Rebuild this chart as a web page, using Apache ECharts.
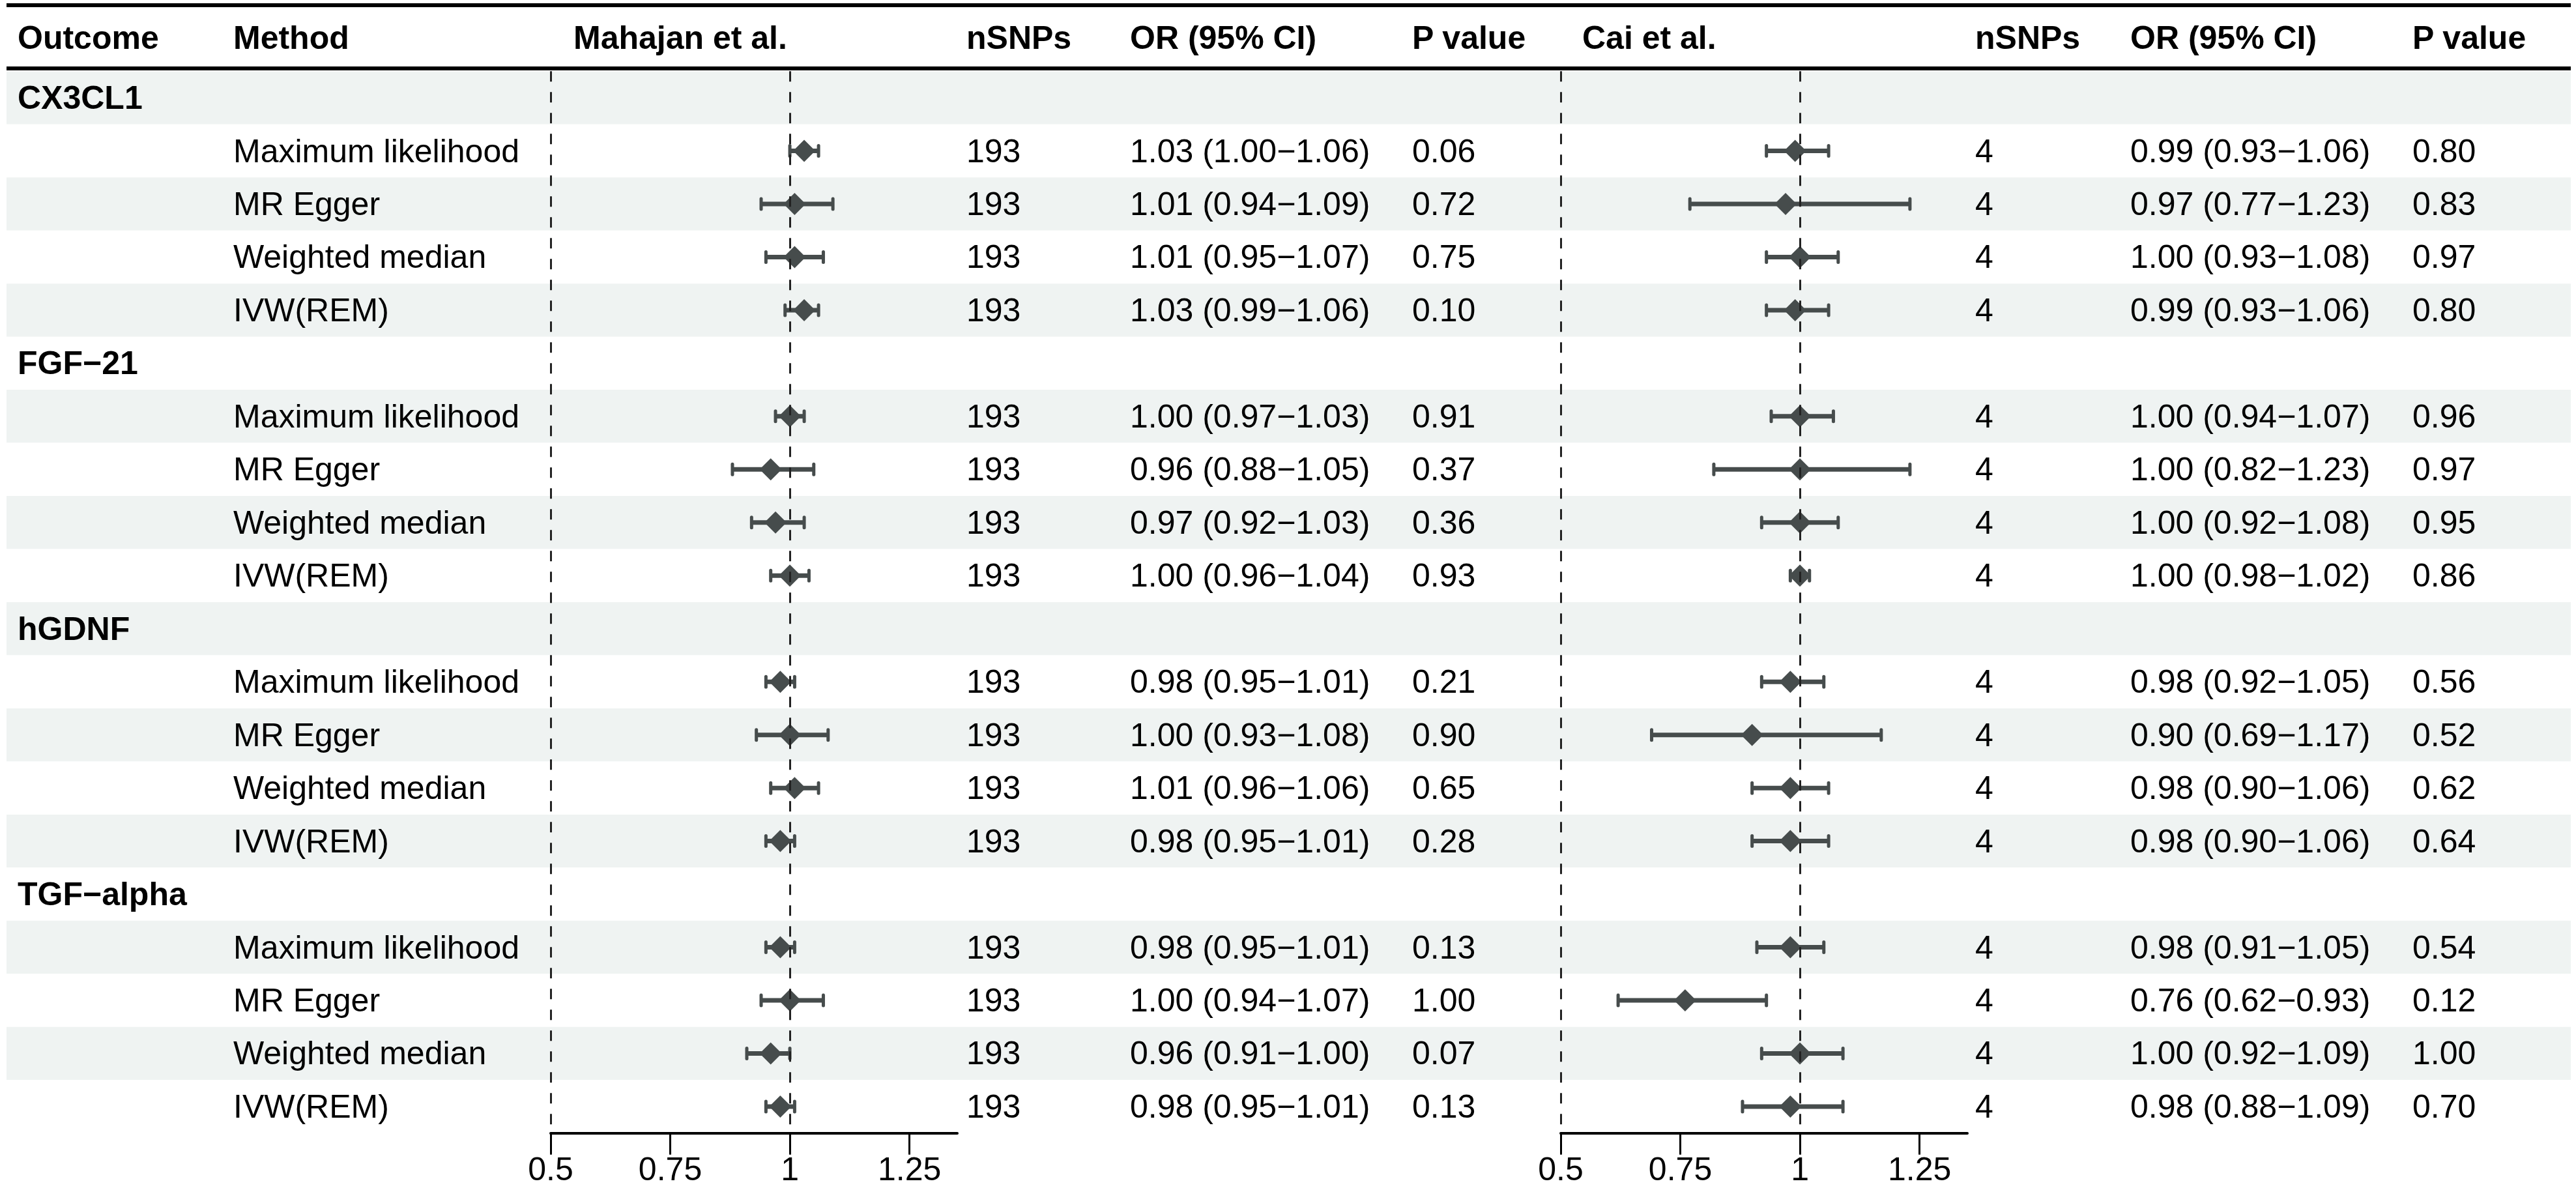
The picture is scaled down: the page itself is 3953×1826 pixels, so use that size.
<!DOCTYPE html>
<html>
<head>
<meta charset="utf-8">
<script src="https://cdn.jsdelivr.net/npm/echarts@6/dist/echarts.min.js"></script>
<style>
html, body { margin: 0; padding: 0; background: #ffffff; }
#container { width: 3953px; height: 1826px; }
</style>
</head>
<body>
<div id="container"></div>
<script>
// ---- data ----
const outcomes = ['CX3CL1', 'FGF\u221221', 'hGDNF', 'TGF\u2212alpha'];
const methods = ['Maximum likelihood', 'MR Egger', 'Weighted median', 'IVW(REM)'];
const headers = ['Outcome', 'Method', 'Mahajan et al.', 'nSNPs', 'OR (95% CI)', 'P value', 'Cai et al.', 'nSNPs', 'OR (95% CI)', 'P value'];
const axisTicks = [0.5, 0.75, 1, 1.25];

// Mahajan et al. (4 methods per outcome, outcomes in order)
const mahajanN = [193, 193, 193, 193, 193, 193, 193, 193, 193, 193, 193, 193, 193, 193, 193, 193];
const mahajanOR = [1.03, 1.01, 1.01, 1.03, 1.00, 0.96, 0.97, 1.00, 0.98, 1.00, 1.01, 0.98, 0.98, 1.00, 0.96, 0.98];
const mahajanLow = [1.00, 0.94, 0.95, 0.99, 0.97, 0.88, 0.92, 0.96, 0.95, 0.93, 0.96, 0.95, 0.95, 0.94, 0.91, 0.95];
const mahajanHigh = [1.06, 1.09, 1.07, 1.06, 1.03, 1.05, 1.03, 1.04, 1.01, 1.08, 1.06, 1.01, 1.01, 1.07, 1.00, 1.01];
const mahajanP = ['0.06', '0.72', '0.75', '0.10', '0.91', '0.37', '0.36', '0.93', '0.21', '0.90', '0.65', '0.28', '0.13', '1.00', '0.07', '0.13'];

// Cai et al.
const caiN = [4, 4, 4, 4, 4, 4, 4, 4, 4, 4, 4, 4, 4, 4, 4, 4];
const caiOR = [0.99, 0.97, 1.00, 0.99, 1.00, 1.00, 1.00, 1.00, 0.98, 0.90, 0.98, 0.98, 0.98, 0.76, 1.00, 0.98];
const caiLow = [0.93, 0.77, 0.93, 0.93, 0.94, 0.82, 0.92, 0.98, 0.92, 0.69, 0.90, 0.90, 0.91, 0.62, 0.92, 0.88];
const caiHigh = [1.06, 1.23, 1.08, 1.06, 1.07, 1.23, 1.08, 1.02, 1.05, 1.17, 1.06, 1.06, 1.05, 0.93, 1.09, 1.09];
const caiP = ['0.80', '0.83', '0.97', '0.80', '0.96', '0.97', '0.95', '0.86', '0.56', '0.52', '0.62', '0.64', '0.54', '0.12', '1.00', '0.70'];

// ---- layout ----
const FONT = "'Liberation Sans', Arial, Helvetica, sans-serif";
const FS = 50;
const ciColor = '#464c4c';
const rowTop = 109.3, rowH = 81.47;
const colX = [27, 358, 880, 1483, 1734, 2167, 2428, 3031, 3269, 3702];
const forestL = { left: 845, width: 624 };
const forestR = { left: 2395, width: 624 };

let dom = document.getElementById('container');
let myChart = echarts.init(dom, null, { renderer: 'svg' });

// rows: outcome title row followed by its 4 methods
let rowNames = [];
outcomes.forEach(function (o, g) {
    rowNames.push('g' + g);
    methods.forEach(function (m, j) { rowNames.push('r' + g + '_' + j); });
});
function rowOf(k) {
    return Math.floor(k / 4) * 5 + (k % 4) + 1;
}
function fmt(v) {
    return v.toFixed(2);
}
function orText(or, lo, hi) {
    return fmt(or) + ' (' + fmt(lo) + '\u2212' + fmt(hi) + ')';
}

// table cells
let cells = [];
outcomes.forEach(function (o, g) {
    cells.push({ x: colX[0], row: g * 5, text: o, bold: true });
});
for (let k = 0; k < mahajanOR.length; k++) {
    let r = rowOf(k);
    cells.push({ x: colX[1], row: r, text: methods[k % 4] });
    cells.push({ x: colX[3], row: r, text: String(mahajanN[k]) });
    cells.push({ x: colX[4], row: r, text: orText(mahajanOR[k], mahajanLow[k], mahajanHigh[k]) });
    cells.push({ x: colX[5], row: r, text: mahajanP[k] });
    cells.push({ x: colX[7], row: r, text: String(caiN[k]) });
    cells.push({ x: colX[8], row: r, text: orText(caiOR[k], caiLow[k], caiHigh[k]) });
    cells.push({ x: colX[9], row: r, text: caiP[k] });
}

function renderCell(params, api) {
    let c = cells[params.dataIndex];
    let p = api.coord([api.value(0), api.value(1)]);
    return {
        type: 'text',
        x: p[0],
        y: p[1],
        style: {
            text: c.text,
            fill: '#000000',
            fontSize: FS,
            fontFamily: FONT,
            fontWeight: c.bold ? 'bold' : 'normal',
            align: 'left',
            verticalAlign: 'middle'
        }
    };
}

function renderCI(params, api) {
    let lo = api.coord([api.value(0), api.value(2)]);
    let hi = api.coord([api.value(1), api.value(2)]);
    let capH = 8;
    return {
        type: 'group',
        children: [
            { type: 'line', shape: { x1: lo[0], y1: lo[1], x2: hi[0], y2: hi[1] }, style: { stroke: ciColor, lineWidth: 7 } },
            { type: 'line', shape: { x1: lo[0], y1: lo[1] - capH, x2: lo[0], y2: lo[1] + capH }, style: { stroke: ciColor, lineWidth: 5, lineCap: 'round' } },
            { type: 'line', shape: { x1: hi[0], y1: hi[1] - capH, x2: hi[0], y2: hi[1] + capH }, style: { stroke: ciColor, lineWidth: 5, lineCap: 'round' } }
        ]
    };
}

function forestX(idx) {
    return {
        gridIndex: idx,
        type: 'value',
        min: 0.5,
        max: 1.35,
        interval: 0.25,
        splitLine: { show: false },
        axisLine: { show: true, onZero: false, lineStyle: { color: '#000000', width: 4 } },
        axisTick: { show: true, length: 33, customValues: axisTicks, lineStyle: { color: '#000000', width: 3 } },
        axisLabel: { show: true, customValues: axisTicks, margin: 30, fontSize: FS, fontFamily: FONT, color: '#000000' }
    };
}
function rowY(idx, shade) {
    return {
        gridIndex: idx,
        type: 'category',
        data: rowNames,
        inverse: true,
        boundaryGap: true,
        axisLine: { show: false },
        axisTick: { show: false },
        axisLabel: { show: false },
        splitLine: { show: false },
        splitArea: { show: shade, areaStyle: { color: ['#eff3f2', '#ffffff'] } }
    };
}

const refLine = {
    symbol: 'none',
    silent: true,
    label: { show: false },
    lineStyle: { color: '#222222', width: 3, type: [16, 16] },
    data: [{ xAxis: 0.5 }, { xAxis: 1 }]
};

function ciData(lo, hi) {
    return lo.map(function (v, k) { return [v, hi[k], rowOf(k)]; });
}
function pointData(or) {
    return or.map(function (v, k) { return [v, rowOf(k)]; });
}

let option = {
    animation: false,
    backgroundColor: '#ffffff',
    grid: [
        { left: 10, right: 8, top: rowTop, height: rowH * rowNames.length, outerBoundsMode: 'none' },
        { left: forestL.left, width: forestL.width, top: rowTop, height: rowH * rowNames.length, outerBoundsMode: 'none' },
        { left: forestR.left, width: forestR.width, top: rowTop, height: rowH * rowNames.length, outerBoundsMode: 'none' }
    ],
    xAxis: [
        { gridIndex: 0, type: 'value', min: 10, max: 3945, show: false },
        forestX(1),
        forestX(2)
    ],
    yAxis: [rowY(0, true), rowY(1, false), rowY(2, false)],
    graphic: [
        { type: 'line', shape: { x1: 10, y1: 8, x2: 3945, y2: 8 }, style: { stroke: '#000000', lineWidth: 6 } },
        { type: 'line', shape: { x1: 10, y1: 105, x2: 3945, y2: 105 }, style: { stroke: '#000000', lineWidth: 6 } }
    ].concat(headers.map(function (h, i) {
        return {
            type: 'text',
            x: colX[i],
            y: 58,
            style: { text: h, fill: '#000000', fontSize: FS, fontFamily: FONT, fontWeight: 'bold', align: 'left', verticalAlign: 'middle' }
        };
    })),
    series: [
        {
            type: 'custom',
            xAxisIndex: 0,
            yAxisIndex: 0,
            renderItem: renderCell,
            encode: { x: 0, y: 1 },
            data: cells.map(function (c) { return [c.x, c.row]; }),
            z: 5
        },
        {
            type: 'custom',
            xAxisIndex: 1,
            yAxisIndex: 1,
            renderItem: renderCI,
            encode: { x: [0, 1], y: 2 },
            data: ciData(mahajanLow, mahajanHigh),
            z: 3
        },
        {
            type: 'scatter',
            xAxisIndex: 1,
            yAxisIndex: 1,
            symbol: 'diamond',
            symbolSize: 34,
            itemStyle: { color: ciColor, opacity: 1 },
            data: pointData(mahajanOR),
            markLine: refLine,
            z: 4
        },
        {
            type: 'custom',
            xAxisIndex: 2,
            yAxisIndex: 2,
            renderItem: renderCI,
            encode: { x: [0, 1], y: 2 },
            data: ciData(caiLow, caiHigh),
            z: 3
        },
        {
            type: 'scatter',
            xAxisIndex: 2,
            yAxisIndex: 2,
            symbol: 'diamond',
            symbolSize: 34,
            itemStyle: { color: ciColor, opacity: 1 },
            data: pointData(caiOR),
            markLine: refLine,
            z: 4
        }
    ]
};

myChart.setOption(option);
</script>
</body>
</html>
